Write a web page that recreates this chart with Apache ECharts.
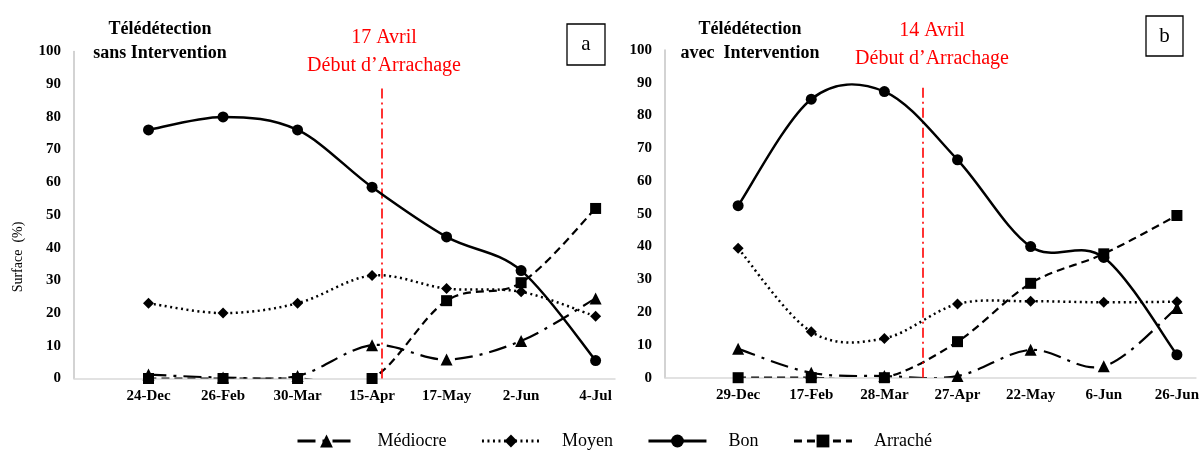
<!DOCTYPE html>
<html>
<head>
<meta charset="utf-8">
<script src="https://cdn.jsdelivr.net/npm/echarts@6/dist/echarts.min.js"></script>
<style>
  html, body { margin: 0; padding: 0; background: #fff; }
  #chart { width: 1202px; height: 452px; }
</style>
</head>
<body>
<div id="chart"></div>
<script>
// Survey dates of each panel
const datesA = ['24-Dec', '26-Feb', '30-Mar', '15-Apr', '17-May', '2-Jun', '4-Jul'];
const datesB = ['29-Dec', '17-Feb', '28-Mar', '27-Apr', '22-May', '6-Jun', '26-Jun'];

// Panel a : surface share (%) per condition class, without intervention
const mediocreA = [1.2, 0.3, 0.8, 10.2, 5.8, 11.5, 24.5];
const moyenA    = [23, 20, 23, 31.5, 27.5, 26.5, 19];
const bonA      = [76, 80, 76, 58.5, 43.3, 33, 5.5];
const arracheA  = [0, 0, 0, 0, 23.8, 29.3, 52];

// Panel b : surface share (%) per condition class, with intervention
const mediocreB = [8.8, 1.5, 0.5, 0.5, 8.5, 3.5, 21.3];
const moyenB    = [39.5, 14, 12, 22.5, 23.3, 23, 23.2];
const bonB      = [52.5, 85, 87.3, 66.5, 40, 36.7, 7];
const arracheB  = [0, 0, 0, 11, 28.8, 37.8, 49.5];

// Start of uprooting, as a fractional position between survey dates
const uprootA = 4.13;
const uprootB = 3.53;

const SERIF = "'Liberation Serif', 'Times New Roman', serif";
const positions = datesA.map((_, i) => i + 1);
const toPoints = arr => arr.map((v, i) => [i + 1, v]);

const styles = {
  'Médiocre': { symbol: 'triangle', symbolSize: 12, width: 2.2, type: [18, 7, 3, 7] },
  'Moyen':    { symbol: 'diamond',  symbolSize: 11, width: 2.5, type: [2, 3.5] },
  'Bon':      { symbol: 'circle',   symbolSize: 11, width: 2.5, type: 'solid' },
  'Arraché':  { symbol: 'rect',     symbolSize: 11, width: 2.2, type: [8, 5] }
};

// Markers of a class (its connecting curve is drawn by smoothCurve below)
function markerSeries(name, values, idx) {
  const s = styles[name];
  return {
    name, type: 'line',
    xAxisIndex: idx, yAxisIndex: idx,
    data: toPoints(values),
    symbol: s.symbol, symbolSize: s.symbolSize,
    itemStyle: { color: '#000' },
    lineStyle: { color: '#000', width: s.width, type: s.type, opacity: 0 },
    z: name === 'Bon' ? 6 : 4
  };
}

// Cardinal-spline curve through the points of a class, projected with the grid's axes
function smoothCurve(name, values, idx) {
  const s = styles[name];
  return {
    name, type: 'custom', coordinateSystem: 'cartesian2d',
    xAxisIndex: idx, yAxisIndex: idx,
    data: [[1, values[0]]],
    silent: true, clip: true,
    z: name === 'Bon' ? 5 : 3,
    renderItem(params, api) {
      const p = values.map((v, i) => api.coord([i + 1, v]));
      const n = p.length;
      let d = 'M' + p[0][0] + ' ' + p[0][1];
      for (let i = 0; i < n - 1; i++) {
        const p0 = p[Math.max(i - 1, 0)], p1 = p[i], p2 = p[i + 1], p3 = p[Math.min(i + 2, n - 1)];
        const c1x = p1[0] + (p2[0] - p0[0]) / 6, c1y = p1[1] + (p2[1] - p0[1]) / 6;
        const c2x = p2[0] - (p3[0] - p1[0]) / 6, c2y = p2[1] - (p3[1] - p1[1]) / 6;
        d += ' C' + c1x + ' ' + c1y + ' ' + c2x + ' ' + c2y + ' ' + p2[0] + ' ' + p2[1];
      }
      return {
        type: 'path',
        shape: { pathData: d },
        style: {
          fill: 'none', stroke: '#000', lineWidth: s.width,
          lineDash: Array.isArray(s.type) ? s.type : null, lineCap: 'butt'
        }
      };
    }
  };
}

function uprootLine(x, top, idx) {
  return {
    type: 'line', xAxisIndex: idx, yAxisIndex: idx, data: [],
    silent: true,
    markLine: {
      silent: true, symbol: 'none', label: { show: false },
      lineStyle: { color: '#ff0000', width: 1.6, type: [10, 4, 2, 4] },
      data: [[{ coord: [x, 0] }, { coord: [x, top] }]]
    }
  };
}

function xAxis(dates, idx) {
  return {
    type: 'value', gridIndex: idx, min: 0, max: 7.26,
    axisLine: { show: true, lineStyle: { color: '#d9d9d9', width: 1.5 } },
    axisTick: { show: false },
    splitLine: { show: false },
    axisLabel: {
      customValues: positions,
      formatter: v => dates[Math.round(v) - 1] || '',
      color: '#000', fontFamily: SERIF, fontWeight: 'bold', fontSize: 15, margin: 10
    }
  };
}

function yAxis(idx) {
  return {
    type: 'value', gridIndex: idx, min: 0, max: 100, interval: 10,
    axisLine: { show: true, lineStyle: { color: '#c4c4c4', width: 1.5 } },
    axisTick: { show: false },
    splitLine: { show: false },
    axisLabel: { color: '#000', fontFamily: SERIF, fontWeight: 'bold', fontSize: 15, margin: 13 }
  };
}

function text(str, x, y, size, opts, extra) {
  return Object.assign({
    type: 'text', x, y, z: 10,
    style: Object.assign({
      text: str, fontFamily: SERIF, fontSize: size, fill: '#000',
      align: 'center', verticalAlign: 'middle'
    }, opts || {})
  }, extra || {});
}

function letterBox(letter, x, y, w, h) {
  return [
    { type: 'rect', shape: { x, y, width: w, height: h }, z: 10,
      style: { fill: '#fff', stroke: '#000', lineWidth: 1.3 } },
    text(letter, x + w / 2, y + h / 2, 21)
  ];
}

const classNames = ['Médiocre', 'Moyen', 'Bon', 'Arraché'];
const panelA = { 'Médiocre': mediocreA, 'Moyen': moyenA, 'Bon': bonA, 'Arraché': arracheA };
const panelB = { 'Médiocre': mediocreB, 'Moyen': moyenB, 'Bon': bonB, 'Arraché': arracheB };
const drawOrder = ['Médiocre', 'Moyen', 'Arraché', 'Bon'];

const series = [uprootLine(uprootA, 88.8, 0), uprootLine(uprootB, 89.6, 1)];
[panelA, panelB].forEach((panel, idx) => {
  drawOrder.forEach(name => {
    series.push(markerSeries(name, panel[name], idx));
    series.push(smoothCurve(name, panel[name], idx));
  });
});

const chart = echarts.init(document.getElementById('chart'), null, { renderer: 'canvas' });

chart.setOption({
  animation: false,
  backgroundColor: '#fff',
  grid: [
    { left: 74, top: 51.5, width: 541, height: 327 },
    { left: 665, top: 50, width: 532, height: 327.7 }
  ],
  xAxis: [xAxis(datesA, 0), xAxis(datesB, 1)],
  yAxis: [yAxis(0), yAxis(1)],
  legend: {
    bottom: -3, left: 291,
    itemWidth: 58, itemHeight: 16, itemGap: 34,
    textStyle: { fontFamily: SERIF, fontSize: 18, color: '#000', padding: [0, 0, 0, 17] },
    data: classNames.map(name => ({
      name,
      itemStyle: { color: '#000' },
      lineStyle: {
        color: '#000', opacity: 1, width: 3,
        type: styles[name].type, cap: 'butt'
      }
    }))
  },
  series,
  graphic: [
    text('Télédétection', 160, 29, 18, { fontWeight: 'bold' }),
    text('sans Intervention', 160, 53, 18, { fontWeight: 'bold' }),
    text('17 Avril', 384, 38, 20, { fill: '#ff0000' }),
    text('Début d’Arrachage', 384, 66, 20, { fill: '#ff0000' }),
    text('Télédétection', 750, 29, 18, { fontWeight: 'bold' }),
    text('avec  Intervention', 750, 53, 18, { fontWeight: 'bold' }),
    text('14 Avril', 932, 31, 20, { fill: '#ff0000' }),
    text('Début d’Arrachage', 932, 59, 20, { fill: '#ff0000' }),
    text('Surface  (%)', 18, 257, 14, {}, { rotation: Math.PI / 2 }),
    ...letterBox('a', 567, 24, 38, 41),
    ...letterBox('b', 1146, 16, 37, 40)
  ]
});
</script>
</body>
</html>
